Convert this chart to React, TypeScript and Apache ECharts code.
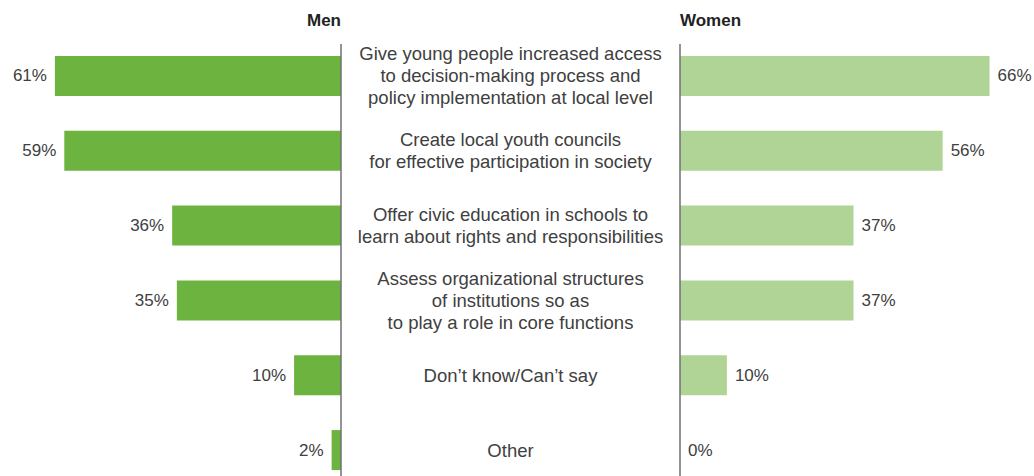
import React, { useEffect, useRef } from "react";
import * as echarts from "echarts";

const categories = [
  "Give young people increased access\nto decision-making process and\npolicy implementation at local level",
  "Create local youth councils\nfor effective participation in society",
  "Offer civic education in schools to\nlearn about rights and responsibilities",
  "Assess organizational structures\nof institutions so as\nto play a role in core functions",
  "Don’t know/Can’t say",
  "Other",
];
const menValues = [61, 59, 36, 35, 10, 2];
const womenValues = [66, 56, 37, 37, 10, 0];
const seriesNames = ["Men", "Women"];

const FONT = "'Liberation Sans', Arial, Helvetica, sans-serif";

export default function App() {
  const ref = useRef<HTMLDivElement>(null);
  useEffect(() => {
    if (!ref.current) return;
    const chart = echarts.init(ref.current, null, { renderer: "svg" });
    const pxPer = 4.69;
    const maxV = 70;
    const w = maxV * pxPer;
    const axisL = 341;
    const axisR = 680;
    chart.setOption({
      animation: false,
      backgroundColor: "#ffffff",
      textStyle: { fontFamily: FONT },
      grid: [
        { left: axisL - w, width: w, top: 38.5, height: 449, containLabel: false },
        { left: axisR, width: w, top: 38.5, height: 449, containLabel: false },
      ],
      xAxis: [
        { type: "value", gridIndex: 0, min: 0, max: maxV, inverse: true, show: false },
        { type: "value", gridIndex: 1, min: 0, max: maxV, show: false },
      ],
      yAxis: [
        {
          type: "category",
          gridIndex: 0,
          data: categories,
          inverse: true,
          position: "right",
          axisLine: { show: false },
          axisTick: { show: false },
          splitLine: { show: false },
          axisLabel: {
            show: true,
            margin: (axisR - axisL) / 2,
            align: "center",
            fontSize: 18.5,
            lineHeight: 22,
            color: "#404040",
            fontFamily: FONT,
          },
        },
        {
          type: "category",
          gridIndex: 1,
          data: categories,
          inverse: true,
          axisLine: { show: false },
          axisTick: { show: false },
          axisLabel: { show: false },
          splitLine: { show: false },
        },
      ],
      series: [
        {
          name: seriesNames[0],
          type: "bar",
          xAxisIndex: 0,
          yAxisIndex: 0,
          data: menValues,
          barWidth: 40,
          itemStyle: { color: "#6db33f" },
          label: {
            show: true,
            position: "left",
            distance: 8,
            formatter: "{c}%",
            fontSize: 17,
            color: "#404040",
            fontFamily: FONT,
          },
        },
        {
          name: seriesNames[1],
          type: "bar",
          xAxisIndex: 1,
          yAxisIndex: 1,
          data: womenValues,
          barWidth: 40,
          itemStyle: { color: "#b0d496" },
          label: {
            show: true,
            position: "right",
            distance: 8,
            formatter: "{c}%",
            fontSize: 17,
            color: "#404040",
            fontFamily: FONT,
          },
        },
      ],
      graphic: [
        {
          type: "line",
          z: 10,
          shape: { x1: axisL, y1: 44, x2: axisL, y2: 490 },
          style: { stroke: "#707070", lineWidth: 1.5 },
        },
        {
          type: "line",
          z: 10,
          shape: { x1: axisR, y1: 44, x2: axisR, y2: 490 },
          style: { stroke: "#707070", lineWidth: 1.5 },
        },
        {
          type: "text",
          x: axisL,
          y: 20,
          style: {
            text: seriesNames[0],
            align: "right",
            verticalAlign: "middle",
            fontSize: 17,
            fontWeight: "bold",
            fill: "#222",
            fontFamily: FONT,
          },
        },
        {
          type: "text",
          x: axisR,
          y: 20,
          style: {
            text: seriesNames[1],
            align: "left",
            verticalAlign: "middle",
            fontSize: 17,
            fontWeight: "bold",
            fill: "#222",
            fontFamily: FONT,
          },
        },
      ],
    });
    return () => chart.dispose();
  }, []);
  return (
    <div
      style={{
        position: "absolute",
        left: 0,
        top: 0,
        width: 1034,
        height: 476,
        overflow: "hidden",
      }}
    >
      <div ref={ref} style={{ width: 1034, height: 490 }} />
    </div>
  );
}
